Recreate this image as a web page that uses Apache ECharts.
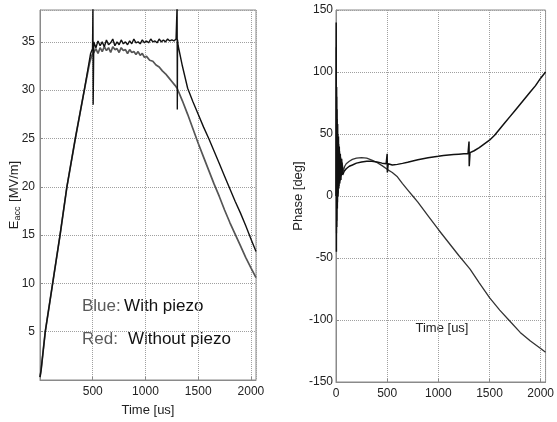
<!DOCTYPE html>
<html>
<head>
<meta charset="utf-8">
<title>Eacc / Phase</title>
<script src="https://cdn.jsdelivr.net/npm/echarts@6/dist/echarts.min.js"></script>
<style>
	html, body { margin: 0; padding: 0; background: #fff; }
	#main { width: 557px; height: 422px; }
</style>
</head>
<body>
<div id="main"></div>
<script>
//刻度
var timeTicks = [0, 500, 1000, 1500, 2000];
var eaccTicks = [5, 10, 15, 20, 25, 30, 35];
var phaseTicks = [-150, -100, -50, 0, 50, 100, 150];

//Eacc - with piezo
var eaccPiezoT = [0, 10, 50, 120, 190, 255, 335, 420, 480, 498, 500, 502, 504, 510, 530, 550, 570, 590, 610, 630, 650, 670, 690, 710, 730, 750, 770, 790, 810, 830, 850, 870, 890, 910, 930, 950, 970, 990, 1010, 1030, 1050, 1070, 1090, 1110, 1130, 1150, 1170, 1190, 1210, 1230, 1250, 1270, 1290, 1298, 1300, 1302, 1304, 1310, 1350, 1400, 1450, 1500, 1550, 1600, 1650, 1700, 1750, 1800, 1850, 1900, 1950, 2000, 2048];
var eaccPiezoV = [0.3, 1.0, 5, 10, 15, 20, 25, 30, 33.8, 34.3, 34.5, 38.8, 28.5, 35.0, 34.4, 35.1, 34.6, 35.0, 34.5, 35.2, 34.7, 34.9, 35.3, 34.6, 35.0, 34.7, 35.2, 34.8, 35.0, 34.7, 35.1, 34.8, 35.3, 34.9, 35.0, 34.8, 35.2, 34.9, 35.1, 34.9, 35.3, 35.0, 35.1, 34.9, 35.3, 35.0, 35.2, 35.0, 35.3, 35.1, 35.2, 35.1, 35.3, 35.2, 38.8, 28.0, 35.2, 34.6, 32.5, 30.2, 28.8, 27.5, 26.2, 25.0, 23.7, 22.4, 21.1, 19.8, 18.5, 17.3, 16.0, 14.6, 13.3];

//Eacc - without piezo
var eaccNoPiezoT = [0, 10, 50, 120, 190, 255, 335, 420, 470, 490, 510, 530, 550, 570, 590, 610, 630, 650, 670, 690, 710, 730, 750, 770, 790, 810, 830, 850, 870, 890, 910, 930, 950, 970, 990, 1010, 1040, 1070, 1100, 1130, 1160, 1190, 1220, 1250, 1280, 1300, 1350, 1400, 1450, 1500, 1550, 1600, 1650, 1700, 1750, 1800, 1850, 1900, 1950, 2000, 2048];
var eaccNoPiezoV = [0.3, 1.0, 5, 10, 15, 20, 25, 30, 32.8, 33.6, 33.9, 34.3, 33.8, 34.4, 34.0, 34.5, 34.1, 34.4, 33.9, 34.5, 34.2, 34.3, 33.9, 34.4, 34.1, 34.2, 33.8, 34.2, 33.9, 34.0, 33.7, 34.0, 33.6, 33.8, 33.4, 33.5, 33.1, 33.0, 32.6, 32.4, 32.0, 31.7, 31.3, 30.9, 30.5, 30.2, 28.9, 27.5, 26.0, 24.5, 23.1, 21.7, 20.3, 19.0, 17.6, 16.3, 15.1, 13.9, 12.7, 11.6, 10.6];

//Phase - with piezo
var phasePiezoT = [0, 2, 4, 6, 8, 10, 13, 16, 20, 24, 28, 32, 37, 42, 48, 55, 65, 80, 100, 130, 160, 200, 250, 300, 350, 400, 450, 490, 498, 500, 502, 510, 550, 600, 650, 700, 750, 800, 850, 900, 950, 1000, 1050, 1100, 1150, 1200, 1250, 1290, 1298, 1300, 1302, 1310, 1350, 1400, 1450, 1500, 1550, 1600, 1650, 1700, 1750, 1800, 1850, 1900, 1950, 2000, 2048];
var phasePiezoV = [0, 140, -45, 88, -25, 70, -10, 58, 0, 48, 6, 40, 10, 34, 13, 30, 17, 20, 22, 24, 25, 26.5, 27.5, 28, 28, 27.5, 26.5, 26, 26, 34, 19, 26, 25, 25.5, 26.3, 27.2, 28.2, 29.2, 30, 30.8, 31.5, 32, 32.6, 33, 33.4, 33.7, 34, 34, 34.2, 44, 24, 35, 36.5, 39, 42, 45, 49, 54, 59, 64, 69, 74, 79, 84, 89, 95, 100];

//Phase - without piezo
var phaseNoPiezoT = [0, 3, 5, 7, 9, 12, 15, 18, 22, 26, 30, 35, 40, 46, 52, 60, 70, 85, 100, 130, 160, 200, 250, 300, 350, 400, 450, 500, 550, 600, 650, 700, 750, 800, 900, 1000, 1100, 1200, 1290, 1300, 1310, 1400, 1500, 1600, 1700, 1800, 1900, 2000, 2048];
var phaseNoPiezoV = [0, 120, -30, 80, -20, 62, -5, 50, 2, 42, 8, 36, 12, 31, 16, 27, 20, 24, 26, 28, 29.5, 30.5, 31, 30.5, 29, 27, 24.5, 21.5, 19, 15.5, 10, 5, 0, -5, -16, -27, -37.5, -48, -57, -58, -59, -70, -82, -92, -101, -110, -117, -123, -126];

var fontName = "'Liberation Sans', Arial, sans-serif";

//把时间和数值合成点对
var zip = function(t, v) {
	var out = [];
	for(var i = 0; i < t.length; i++) {
		out.push([t[i], v[i]]);
	}
	return out;
};

//只显示列表里的刻度值
var tickFormatter = function(list) {
	return function(v) {
		return list.indexOf(v) >= 0 ? String(v) : '';
	};
};

var axisCommon = function() {
	return {
		type: 'value',
		axisLine: { show: true, onZero: false, lineStyle: { color: '#8a8a8a', width: 1 } },
		axisTick: { show: true, inside: true, length: 3, lineStyle: { color: '#8a8a8a' } },
		splitLine: { show: true, lineStyle: { color: '#a0a0a0', width: 1, type: 'dotted' } },
		axisLabel: { color: '#222', fontSize: 12, fontFamily: fontName },
		nameTextStyle: { color: '#222', fontSize: 13, fontFamily: fontName }
	};
};

var xAxisLeft = axisCommon();
xAxisLeft.gridIndex = 0;
xAxisLeft.min = 0;
xAxisLeft.max = 2048;
xAxisLeft.interval = 500;
xAxisLeft.axisLabel.showMinLabel = false;
xAxisLeft.axisLabel.showMaxLabel = false;
xAxisLeft.axisLabel.margin = 6;
xAxisLeft.axisLabel.formatter = tickFormatter([500, 1000, 1500, 2000]);
xAxisLeft.name = 'Time [us]';
xAxisLeft.nameLocation = 'middle';
xAxisLeft.nameGap = 24;

var yAxisLeft = axisCommon();
yAxisLeft.gridIndex = 0;
yAxisLeft.min = 0;
yAxisLeft.max = 38.3;
yAxisLeft.interval = 5;
yAxisLeft.axisLabel.showMinLabel = false;
yAxisLeft.axisLabel.showMaxLabel = false;
yAxisLeft.axisLabel.margin = 5;
yAxisLeft.axisLabel.formatter = tickFormatter(eaccTicks);
yAxisLeft.name = '{a|E}{s|acc}{a| [MV/m]}';
yAxisLeft.nameLocation = 'middle';
yAxisLeft.nameRotate = 90;
yAxisLeft.nameGap = 18;
yAxisLeft.nameMoveOverlap = false;
yAxisLeft.nameTextStyle.rich = {
	a: { fontSize: 13, color: '#222', fontFamily: fontName },
	s: { fontSize: 9, color: '#222', fontFamily: fontName, padding: [6, 1, 0, 0] }
};

var xAxisRight = axisCommon();
xAxisRight.gridIndex = 1;
xAxisRight.min = 0;
xAxisRight.max = 2048;
xAxisRight.interval = 500;
xAxisRight.axisLabel.showMaxLabel = false;
xAxisRight.axisLabel.margin = 6;
xAxisRight.axisLabel.formatter = tickFormatter(timeTicks);

var yAxisRight = axisCommon();
yAxisRight.gridIndex = 1;
yAxisRight.min = -150;
yAxisRight.max = 150;
yAxisRight.interval = 50;
yAxisRight.axisLabel.margin = 3;
yAxisRight.axisLabel.formatter = tickFormatter(phaseTicks);
yAxisRight.name = 'Phase [deg]';
yAxisRight.nameLocation = 'middle';
yAxisRight.nameRotate = 90;
yAxisRight.nameGap = 31;

var lineSeries = function(data, xi, color, width) {
	return {
		type: 'line',
		xAxisIndex: xi,
		yAxisIndex: xi,
		data: data,
		showSymbol: false,
		symbol: 'none',
		clip: true,
		animation: false,
		lineStyle: { color: color, width: width }
	};
};

var option = {
	animation: false,
	backgroundColor: '#fff',
	grid: [{
		left: 40, top: 10, width: 216, height: 372,
		show: true, borderColor: '#8a8a8a', borderWidth: 1
	}, {
		left: 336, top: 10, width: 216, height: 372,
		show: true, borderColor: '#8a8a8a', borderWidth: 1
	}],
	xAxis: [xAxisLeft, xAxisRight],
	yAxis: [yAxisLeft, yAxisRight],
	series: [
		lineSeries(zip(eaccNoPiezoT, eaccNoPiezoV), 0, '#555', 1.7),
		lineSeries(zip(eaccPiezoT, eaccPiezoV), 0, '#111', 1.4),
		lineSeries(zip(phaseNoPiezoT, phaseNoPiezoV), 1, '#333', 1.3),
		lineSeries(zip(phasePiezoT, phasePiezoV), 1, '#111', 1.5)
	],
	graphic: [{
		type: 'text',
		left: 82, top: 298,
		style: {
			text: '{g|Blue:} {b|With piezo}',
			rich: {
				g: { fontSize: 17, fill: '#5a5a5a', fontFamily: fontName },
				b: { fontSize: 17, fill: '#111', fontFamily: fontName }
			}
		}
	}, {
		type: 'text',
		left: 82, top: 331,
		style: {
			text: '{g|Red:}   {b|Without piezo}',
			rich: {
				g: { fontSize: 17, fill: '#5a5a5a', fontFamily: fontName },
				b: { fontSize: 17, fill: '#111', fontFamily: fontName }
			}
		}
	}, {
		type: 'text',
		x: 442, y: 328,
		style: {
			text: 'Time [us]',
			fontSize: 13, fill: '#222', fontFamily: fontName,
			align: 'center', verticalAlign: 'middle'
		}
	}]
};

var chart = echarts.init(document.getElementById('main'), null, { renderer: 'canvas' });
chart.setOption(option);
</script>
</body>
</html>
